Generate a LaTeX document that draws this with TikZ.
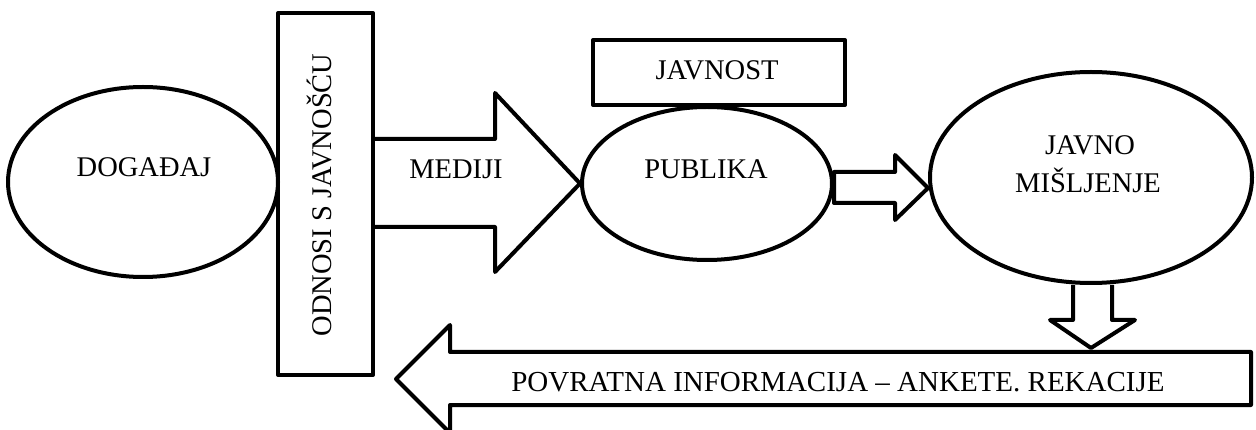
\documentclass[tikz,border=0pt]{standalone}
\usepackage{fontspec}
\setmainfont{Liberation Serif}
\usetikzlibrary{shapes.geometric}

\begin{document}
\begin{tikzpicture}[x=1pt,y=1pt,yscale=-1,xscale=1,
  shp/.style={draw, line width=4pt, line join=round, inner sep=0pt},
  lbl/.style={font=\fontsize{28.5}{34}\selectfont, inner sep=0pt, anchor=base}]
\useasboundingbox (0,0) rectangle (1256,430);

%Shape: Ellipse [id:dogadjaj]
\node [shp, ellipse, minimum width=270, minimum height=190] (dogadjaj) at (143,182) {};
%Shape: Rectangle [id:odnosi]
\node [shp, rectangle, minimum width=95, minimum height=362] (odnosi) at (325.5,194) {};
%Shape: Rectangle [id:javnost]
\node [shp, rectangle, minimum width=252, minimum height=65] (javnost) at (719,72.5) {};
%Shape: Ellipse [id:publika]
\node [shp, ellipse, minimum width=250, minimum height=153] (publika) at (707,183.5) {};
%Shape: Ellipse [id:misljenje]
\node [shp, ellipse, minimum width=322, minimum height=211] (misljenje) at (1091,177.5) {};

%Shape: Right Arrow [id:mediji]
\draw [shp] (odnosi.east |- 0,139) -- (495,139) -- (495,93) -- (publika.west) -- (495,272) -- (495,227) -- (odnosi.east |- 0,227) ;
%Shape: Right Arrow [id:prema]
\draw [shp] (publika.east |- 0,172) -- (895,172) -- (895,155) -- (misljenje.west |- 0,188) -- (895,220) -- (895,203) -- (publika.east |- 0,203) -- cycle ;
%Shape: Down Arrow [id:dolje]
\draw [shp] (misljenje.south -| 1073,0) -- (1073,320) -- (1050,320) -- (misljenje.south |- 0,348) -- (1135,320) -- (1112,320) -- (misljenje.south -| 1112,0) ;
%Shape: Left Arrow [id:povratna]
\draw [shp] (1251,352) -- (450,352) -- (450,325) -- (396,379) -- (450,433) -- (450,405) -- (1251,405) -- cycle ;

% Text Node
\node [lbl] (tdogadjaj) at (144,177) {DOGAĐAJ};
% Text Node
\node [lbl, rotate=90] (todnosi) at (331,195) {ODNOSI S JAVNOŠĆU};
% Text Node
\node [lbl] (tmediji) at (456,179) {MEDIJI};
% Text Node
\node [lbl] (tjavnost) at (717,80) {JAVNOST};
% Text Node
\node [lbl] (tpublika) at (706,179) {PUBLIKA};
% Text Node
\node [lbl] (tjavno) at (1090,155) {JAVNO};
% Text Node
\node [lbl] (tmisljenje) at (1088,193) {MIŠLJENJE};
% Text Node
\node [lbl, font=\fontsize{29}{34}\selectfont] (tpovratna) at (838,391) {POVRATNA INFORMACIJA – ANKETE. REKACIJE};

\end{tikzpicture}
\end{document}
